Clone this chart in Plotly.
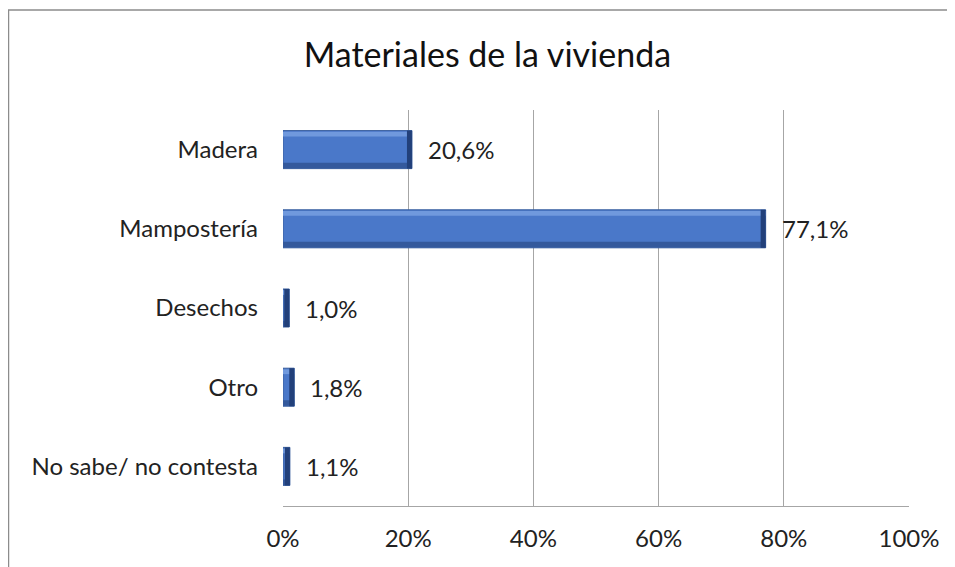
import plotly.graph_objects as go

# Datos
categorias = ["Madera", "Mampostería", "Desechos", "Otro", "No sabe/ no contesta"]
porcentajes = [20.6, 77.1, 1.0, 1.8, 1.1]
etiquetas = ["20,6%", "77,1%", "1,0%", "1,8%", "1,1%"]
ticks_x = [0, 20, 40, 60, 80, 100]
ticks_txt = ["0%", "20%", "40%", "60%", "80%", "100%"]

FUENTE = "Lato, 'Noto Sans', sans-serif"
AZUL = "#4A78C9"
AZUL_CLARO = "#7099DD"
AZUL_OSCURO = "#22407A"
GRIS = "#A6A6A6"

fig = go.Figure()

# Barra base
fig.add_trace(go.Bar(
    y=categorias, x=porcentajes, orientation="h",
    width=0.48, offset=-0.24,
    marker=dict(color=AZUL, line=dict(color="#3A5F9E", width=1)),
    hoverinfo="skip", showlegend=False,
))

# Borde superior claro (efecto bisel)
fig.add_trace(go.Bar(
    y=categorias, x=porcentajes, orientation="h",
    width=0.06, offset=-0.225,
    marker=dict(color=AZUL_CLARO, line=dict(width=0)),
    hoverinfo="skip", showlegend=False,
))

# Borde inferior oscuro
fig.add_trace(go.Bar(
    y=categorias, x=porcentajes, orientation="h",
    width=0.07, offset=0.165,
    marker=dict(color="#34599C", line=dict(width=0)),
    hoverinfo="skip", showlegend=False,
))

# Extremo derecho oscuro
extremo = [min(p, 0.8) for p in porcentajes]
base_extremo = [p - e for p, e in zip(porcentajes, extremo)]
fig.add_trace(go.Bar(
    y=categorias, x=extremo, base=base_extremo, orientation="h",
    width=0.48, offset=-0.24,
    marker=dict(color=AZUL_OSCURO, line=dict(width=0)),
    hoverinfo="skip", showlegend=False,
))

# Etiquetas de valor
for cat, val, txt in zip(categorias, porcentajes, etiquetas):
    fig.add_annotation(
        x=val, y=cat, text=txt, showarrow=False,
        xanchor="left", xshift=14,
        font=dict(family=FUENTE, size=24, color="#222222"),
    )

# Marco exterior del gráfico
fig.add_shape(
    type="rect", xref="paper", yref="paper",
    x0=-0.4385, x1=1.2, y0=-0.3, y1=1.2525,
    line=dict(color="#8C8C8C", width=1.5), fillcolor="rgba(0,0,0,0)",
    layer="below",
)

fig.update_layout(
    width=955, height=567,
    barmode="overlay",
    paper_bgcolor="white", plot_bgcolor="white",
    margin=dict(l=275, r=54, t=102, b=69),
    title=dict(
        text="Materiales de la vivienda",
        x=0.502, xanchor="center", y=0.917, yanchor="middle",
        font=dict(family=FUENTE, size=34, color="#111111"),
    ),
    font=dict(family=FUENTE, size=24, color="#222222"),
    xaxis=dict(
        range=[0, 100], tickvals=ticks_x, ticktext=ticks_txt,
        showgrid=True, gridcolor=GRIS, gridwidth=1,
        showline=True, linecolor=GRIS, linewidth=1,
        zeroline=False, ticks="", ticklen=0, ticklabelstandoff=11,
        tickfont=dict(size=24), fixedrange=True,
    ),
    yaxis=dict(
        autorange="reversed", showgrid=False,
        showline=False, zeroline=False,
        ticks="", ticklabelstandoff=24,
        tickfont=dict(size=24), fixedrange=True,
    ),
)

fig.write_html("out.html")
